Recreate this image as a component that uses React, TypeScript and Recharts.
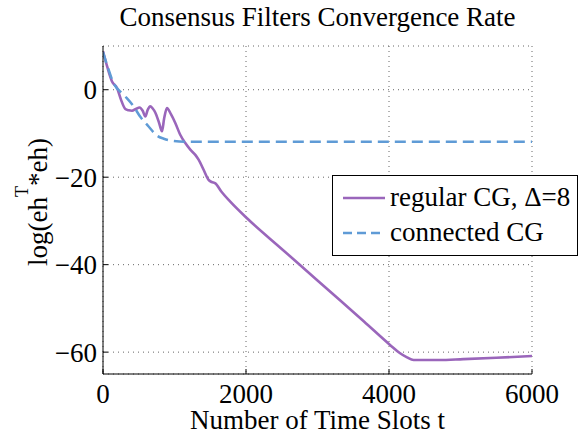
import React from 'react';
import { LineChart, Line, XAxis, YAxis, CartesianGrid, Legend } from 'recharts';

// values
const regularT = [0, 60, 126, 196, 250, 312, 360, 406, 460, 512, 555, 592, 625, 661, 695, 731, 785, 825, 855, 895, 950, 1011, 1080, 1151, 1221, 1291, 1337, 1407, 1477, 1520, 1571, 1660, 1780, 2014, 2500, 3000, 3319, 3650, 4018, 4150, 4252, 4344, 4700, 5039, 5500, 6000];
const regularLog = [8.8, 5.2, 1.9, 0.4, -2.2, -4.4, -4.7, -4.8, -4.4, -4.05, -4.8, -6.1, -4.6, -3.8, -4.3, -5.2, -7.6, -9.5, -6.6, -4.2, -5.6, -7.6, -10.3, -12.2, -13.7, -14.9, -16.0, -18.3, -20.6, -21.1, -21.4, -23.4, -25.6, -29.4, -36.4, -43.6, -48.2, -53.0, -58.4, -60.2, -61.2, -61.8, -61.8, -61.6, -61.3, -60.9];

const connectedT = [0, 70, 148, 288, 428, 522, 638, 755, 850, 941, 1175, 2000, 3000, 4000, 5000, 6000];
const connectedLog = [8.6, 5.0, 1.5, -1.1, -3.8, -6.2, -8.4, -10.5, -11.2, -11.6, -11.9, -11.9, -11.9, -11.9, -11.9, -11.9];

const xTicks = [0, 2000, 4000, 6000];
const yTicks = [-60, -40, -20, 0];

const PURPLE = '#9a66bb';
const BLUE = '#5f9bd6';
const FONT = "'Liberation Serif', 'Times New Roman', serif";

const regularData = regularT.map((t, i) => ({ t, v: regularLog[i] }));
const connectedData = connectedT.map((t, i) => ({ t, v: connectedLog[i] }));

const minus = (v: number) => String(v).replace('-', '\u2212');

const LegendBox = () => (
    <div style={{ width: 244, height: 75, background: '#fff', border: '1px solid #000', fontFamily: FONT, fontSize: 27, color: '#000', paddingTop: 4, boxSizing: 'content-box', whiteSpace: 'nowrap' }}>
        <div style={{ display: 'flex', alignItems: 'center', height: 35 }}>
            <svg width={57} height={6} style={{ flex: 'none' }}>
                <line x1={10} y1={3} x2={52} y2={3} stroke={PURPLE} strokeWidth={2.5} />
            </svg>
            <span>regular CG, Δ=8</span>
        </div>
        <div style={{ display: 'flex', alignItems: 'center', height: 35 }}>
            <svg width={57} height={6} style={{ flex: 'none' }}>
                <line x1={10} y1={3} x2={52} y2={3} stroke={BLUE} strokeWidth={2.5} strokeDasharray="9 5" />
            </svg>
            <span>connected CG</span>
        </div>
    </div>
);

const YLabel = () => (
    <text transform="translate(47,202) rotate(-90)" textAnchor="middle" style={{ fontFamily: FONT, fontSize: 27 }} fill="#000">
        log(eh<tspan style={{ fontSize: 18 }} dy={-19}>T</tspan><tspan dy={19}>*eh)</tspan>
    </text>
);

const XLabel = () => (
    <text x={317.5} y={429} textAnchor="middle" style={{ fontFamily: FONT, fontSize: 27 }} fill="#000">
        Number of Time Slots t
    </text>
);

const App: React.FC = () => {
    const tickStyle = { fontFamily: FONT, fontSize: 27, fill: '#000' };
    const frame = { stroke: '#000' };
    return (
        <div style={{ position: 'fixed', left: 0, top: 0, width: 587, height: 434, overflow: 'hidden', background: '#fff' }}>
            <div style={{ position: 'absolute', left: 48, top: 4, width: 539, textAlign: 'center', fontFamily: FONT, fontSize: 27, lineHeight: '27px', color: '#000' }}>
                Consensus Filters Convergence Rate
            </div>
            <LineChart width={587} height={434} margin={{ top: 46, right: 55, bottom: 0, left: 0 }}>
                <CartesianGrid stroke="#666" strokeDasharray="1 4" vertical horizontal />
                <XAxis
                    dataKey="t"
                    type="number"
                    domain={[0, 6000]}
                    ticks={xTicks}
                    tick={tickStyle}
                    tickLine={frame}
                    tickSize={-5}
                    tickMargin={15}
                    height={60}
                    axisLine={frame}
                    allowDataOverflow
                    label={<XLabel />}
                />
                <XAxis xAxisId="top" orientation="top" type="number" domain={[0, 6000]} ticks={xTicks} tick={false} tickLine={frame} tickSize={-5} height={0} axisLine={frame} />
                <YAxis
                    type="number"
                    domain={[-65, 10]}
                    ticks={yTicks}
                    tick={tickStyle}
                    tickFormatter={minus}
                    tickLine={frame}
                    tickSize={-5}
                    tickMargin={11}
                    width={103}
                    axisLine={frame}
                    allowDataOverflow
                    label={<YLabel />}
                />
                <YAxis yAxisId="right" orientation="right" type="number" domain={[-65, 10]} ticks={yTicks} tick={false} tickLine={frame} tickSize={-5} width={0} axisLine={frame} />
                <Line data={regularData} dataKey="v" name="regular CG, Δ=8" type="monotone" stroke={PURPLE} strokeWidth={2.6} dot={false} isAnimationActive={false} />
                <Line data={connectedData} dataKey="v" name="connected CG" type="monotone" stroke={BLUE} strokeWidth={2.5} strokeDasharray="11 6" dot={false} isAnimationActive={false} />
                <Legend layout="vertical" align="center" verticalAlign="middle" content={<LegendBox />} wrapperStyle={{ left: 332, top: 175, width: 246, height: 79 }} />
            </LineChart>
        </div>
    );
};

export default App;
